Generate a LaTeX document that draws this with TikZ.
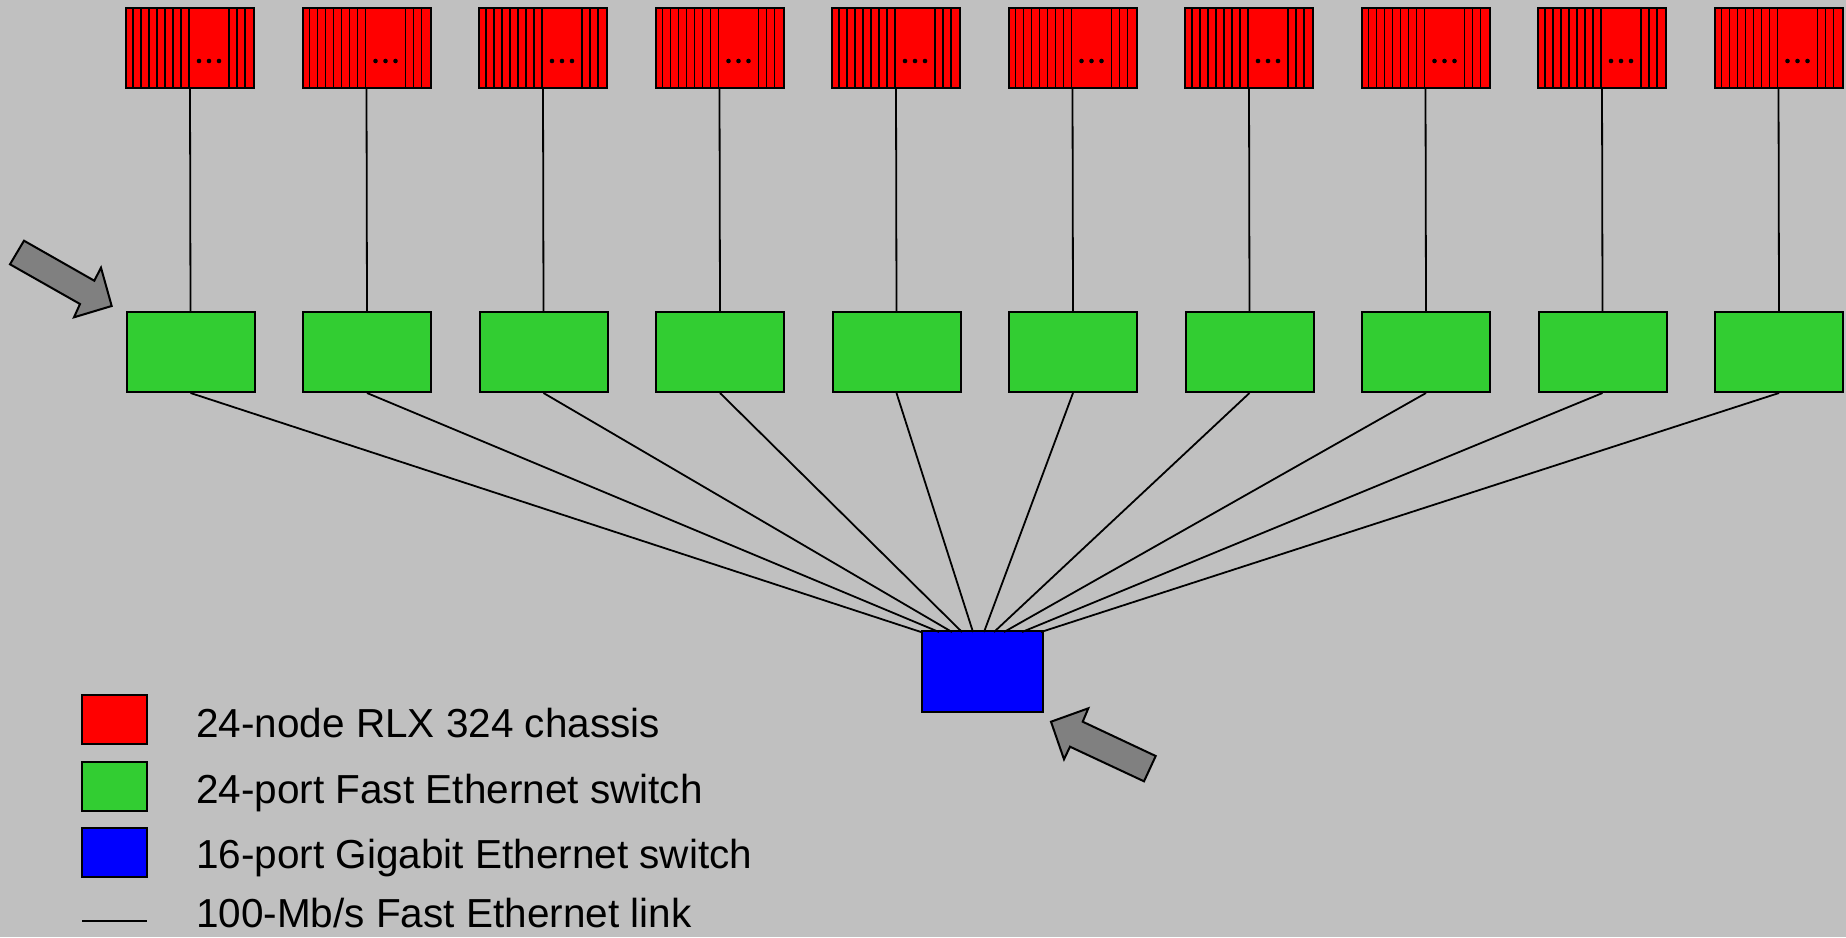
\documentclass[tikz,border=0pt]{standalone}
\usepackage{fontspec}
\setmainfont{Liberation Sans}
\usetikzlibrary{positioning}
\usetikzlibrary{calc}

\definecolor{bggray}{HTML}{C0C0C0}
\definecolor{chassisred}{HTML}{FF0000}
\definecolor{switchgreen}{HTML}{32CD32}
\definecolor{gigablue}{HTML}{0000FF}
\definecolor{arrowgray}{HTML}{808080}

\tikzset{
  chassis/.style={draw, line width=2pt, fill=chassisred, minimum width=128pt, minimum height=80pt, inner sep=0pt},
  fastswitch/.style={draw, line width=2pt, fill=switchgreen, minimum width=128pt, minimum height=80pt, inner sep=0pt},
  gigaswitch/.style={draw, line width=2pt, fill=gigablue, minimum width=121pt, minimum height=81pt, inner sep=0pt},
  link/.style={line width=1.8pt},
  slot/.style={line width=1.8pt},
  bigarrow/.style={draw, line width=2pt, fill=arrowgray, line join=miter},
  legendbox/.style={draw, line width=2pt, minimum width=65pt, minimum height=49pt, inner sep=0pt},
  legendtext/.style={anchor=base west, font=\fontsize{40.5}{48}\selectfont, inner sep=0pt}
}

\begin{document}
\begin{tikzpicture}[x=1pt, y=-1pt]
	% background
	\fill[bggray] (0,0) rectangle (1846,937);
	\useasboundingbox (0,0) rectangle (1846,937);

	% Set the distance between two columns
	\def\pitch{176.5}

	% chassis and edge switches, one column each
	\foreach \i in {1,...,10} {
		\node[chassis] (c\i) at ({190+\pitch*(\i-1)},48) {};
		\foreach \k in {1,...,8} {
			\draw[slot] ($(c\i.north west)+(8*\k,0)$) -- ($(c\i.south west)+(8*\k,0)$);
		}
		\foreach \k in {104,112,120} {
			\draw[slot] ($(c\i.north west)+(\k,0)$) -- ($(c\i.south west)+(\k,0)$);
		}
		\fill ($(c\i.north west)+(74,54)$) circle (2.3pt);
		\fill ($(c\i.north west)+(84,54)$) circle (2.3pt);
		\fill ($(c\i.north west)+(94,54)$) circle (2.3pt);

		\node[fastswitch] (s\i) at ({190.5+\pitch*(\i-1)},352) {};
		\draw[link] (c\i.south) -- (s\i.north);
	}

	% gigabit switch in the middle
	\node[gigaswitch] (g) at (982.5,671.5) {};

	% uplinks, spread along the top of the gigabit switch
	\foreach \i/\dx in {1/0,2/18,3/31,4/41,5/52,6/63,7/73,8/83,9/101,10/120} {
		\draw[link] (s\i.south) -- ($(g.north west)+(\dx,2)$);
	}
	%\draw[link] (s1.south) -- (g.north);

	% pointer arrows
	\draw[bigarrow] (24,240.7) -- (94.3,280.7) -- (101,267.7) -- (111.7,306) -- (74,317.3) -- (80,304) -- (10,264.3) -- cycle;
	\draw[bigarrow] (1051,721.7) -- (1088.3,708.3) -- (1082.7,721.7) -- (1155.7,756) -- (1144,781.3) -- (1070,746.7) -- (1064,759.3) -- cycle;

	% legend
	\node[legendbox, fill=chassisred] (lc) at (114.5,719.5) {};
	\node[legendbox, fill=switchgreen] (ls) at (114.5,786) {};
	\node[legendbox, fill=gigablue] (lg) at (114.5,852) {};
	\coordinate (la) at (82,921);
	\coordinate (lb) at (147,921);
	\draw[link] (la) -- (lb);

	\node[legendtext] (tc) at (196,737) {24-node RLX 324 chassis};
	\node[legendtext] (ts) at (196,803) {24-port Fast Ethernet switch};
	\node[legendtext] (tg) at (196,868.5) {16-port Gigabit Ethernet switch};
	\node[legendtext] (tl) at (196,927) {100-Mb/s Fast Ethernet link};
\end{tikzpicture}
\end{document}
